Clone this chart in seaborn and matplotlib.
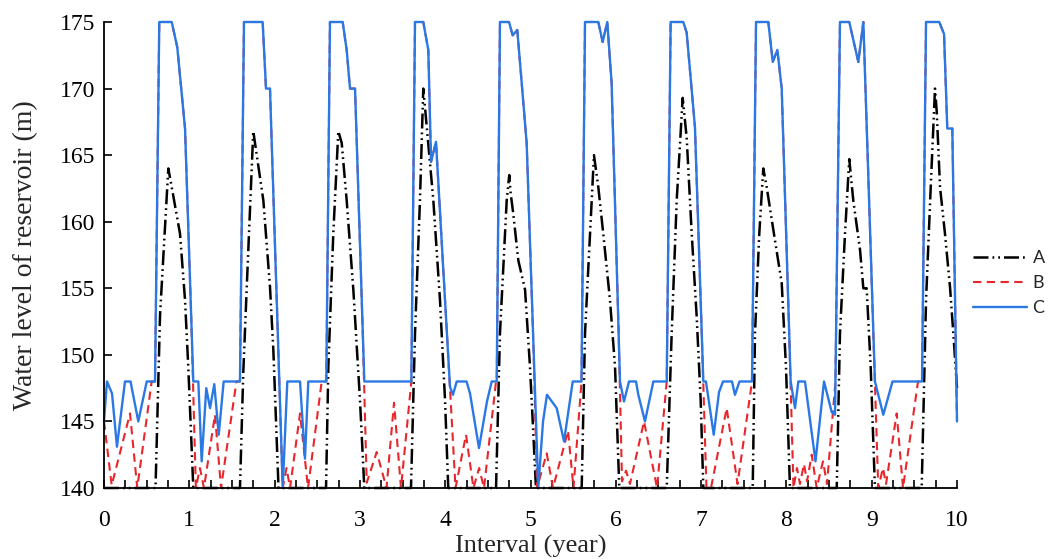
import numpy as np
import pandas as pd
import seaborn as sns
import matplotlib
matplotlib.use("Agg")
import matplotlib.pyplot as plt

# ---- data (x in years, water level in m) ----
a_x = [0.000, 0.604, 0.657, 0.754, 0.794, 0.891, 0.950, 0.988, 1.047,
       1.594, 1.633, 1.673, 1.750, 1.868, 1.946, 1.985, 2.046,
       2.603, 2.630, 2.688, 2.747, 2.787, 2.845, 2.923, 3.001, 3.052,
       3.599, 3.646, 3.704, 3.743, 3.763, 3.861, 3.939, 3.998, 4.036,
       4.596, 4.642, 4.721, 4.751, 4.768, 4.798, 4.857, 4.936, 4.994, 5.033, 5.064,
       5.600, 5.639, 5.698, 5.744, 5.795, 5.853, 5.932, 5.991, 6.041,
       6.597, 6.655, 6.714, 6.784, 6.831, 6.890, 6.948, 6.995, 7.026,
       7.605, 7.632, 7.682, 7.729, 7.769, 7.866, 7.945, 7.995, 8.042,
       8.590, 8.628, 8.687, 8.737, 8.784, 8.863, 8.902, 8.941, 8.988, 9.038,
       9.586, 9.637, 9.692, 9.742, 9.762, 9.801, 9.859, 9.918, 9.957, 10.000]
a_y = [140, 140, 153, 164, 162.6, 159.1, 154.1, 149.1, 140,
       140, 148.7, 155, 166.8, 161.6, 155.1, 150.4, 140,
       140, 149.1, 159.1, 166.8, 165.9, 161.6, 154.9, 146.6, 140,
       140, 151.6, 161.6, 170, 168.6, 161.6, 154.1, 146.6, 140,
       140, 151.6, 161.6, 163.5, 162.1, 160.6, 157.1, 154.9, 149.1, 144.1, 140,
       140, 151.6, 159.1, 165, 162.6, 159.1, 154.1, 149.1, 140,
       140, 151.6, 161.6, 169.3, 166.3, 159.1, 152.9, 146.6, 140,
       140, 151.6, 159.1, 164, 162.6, 158.6, 155.4, 149.1, 140,
       140, 151.6, 159.1, 164.7, 161.6, 157.9, 155, 155, 149.1, 140,
       140, 154.1, 162.6, 170, 168.3, 162.6, 159.1, 155.1, 151.6, 147.5]

b_x = [0.000, 0.090, 0.305, 0.390, 0.559, 0.598, 0.648, 0.794, 0.859, 0.950, 1.022,
       1.077, 1.125, 1.172, 1.301, 1.372, 1.553, 1.594, 1.641, 1.860, 1.899, 1.946,
       2.095, 2.140, 2.181, 2.298, 2.392, 2.552, 2.606, 2.649, 2.798, 2.845, 2.884, 2.943,
       3.032, 3.080, 3.197, 3.312, 3.400, 3.482, 3.603, 3.646, 3.743, 3.802, 3.834, 3.892,
       4.026, 4.121, 4.244, 4.331, 4.398, 4.455, 4.596, 4.604, 4.642, 4.748, 4.791, 4.845, 4.897, 4.955,
       5.038, 5.076, 5.190, 5.264, 5.440, 5.504, 5.598, 5.639, 5.795, 5.846, 5.900, 5.951,
       6.032, 6.073, 6.120, 6.166, 6.331, 6.483, 6.597, 6.643, 6.791, 6.831, 6.928,
       7.006, 7.063, 7.116, 7.300, 7.427, 7.597, 7.644, 7.788, 7.840, 7.894, 7.945,
       8.031, 8.083, 8.124, 8.159, 8.206, 8.242, 8.297, 8.355, 8.429, 8.476, 8.575,
       8.628, 8.737, 8.843, 8.902, 9.015, 9.077, 9.132, 9.168, 9.293, 9.367, 9.543,
       9.590, 9.637, 9.792, 9.848, 9.886, 9.945, 10.000]
b_y = [145, 140.2, 145.6, 140, 148, 148, 175, 175, 173.1, 167, 153,
       140, 141.5, 140, 145.5, 140, 148, 148, 175, 175, 170, 170,
       140, 141.5, 140, 145.6, 140, 148, 148, 175, 175, 172.9, 170, 170,
       152, 140.4, 142.7, 140, 146.4, 140, 148, 175, 175, 172.9, 164.5, 166,
       151, 140, 144, 140, 141.5, 140, 148, 148, 175, 175, 174, 174.4, 170.4, 165.9,
       150, 140, 142.6, 140, 144.3, 140, 148, 175, 175, 173.5, 175, 170.4,
       152, 140.5, 141.3, 140.3, 145, 140, 148, 175, 175, 174.2, 167.1,
       152, 140, 140, 146, 140.3, 148, 175, 175, 172, 172.9, 170,
       152, 140, 141.5, 140.3, 141.8, 140.5, 142.5, 140, 142, 140.3, 148,
       175, 175, 172, 175, 152.5, 140, 141.5, 140.3, 145.6, 140, 148,
       148, 175, 175, 174.1, 167, 167, 145]

c_x = [0.000, 0.035, 0.094, 0.152, 0.246, 0.311, 0.402, 0.501, 0.598, 0.648, 0.794, 0.859, 0.950,
       1.047, 1.106, 1.145, 1.199, 1.243, 1.293, 1.345, 1.403, 1.594, 1.641, 1.860, 1.899, 1.946,
       2.095, 2.149, 2.298, 2.356, 2.395, 2.606, 2.649, 2.798, 2.845, 2.884, 2.943,
       3.052, 3.603, 3.646, 3.743, 3.802, 3.834, 3.892,
       4.056, 4.091, 4.135, 4.250, 4.291, 4.396, 4.490, 4.545, 4.604, 4.642, 4.748, 4.791, 4.845, 4.897, 4.955,
       5.091, 5.147, 5.193, 5.307, 5.393, 5.495, 5.598, 5.639, 5.795, 5.846, 5.900, 5.951,
       6.049, 6.096, 6.155, 6.237, 6.264, 6.342, 6.440, 6.597, 6.643, 6.791, 6.831, 6.928,
       7.026, 7.057, 7.148, 7.210, 7.257, 7.362, 7.397, 7.450, 7.597, 7.644, 7.788, 7.840, 7.894, 7.945,
       8.050, 8.101, 8.140, 8.218, 8.341, 8.441, 8.531, 8.570, 8.628, 8.737, 8.843, 8.902,
       9.038, 9.136, 9.244, 9.590, 9.637, 9.792, 9.848, 9.886, 9.945, 10.000]
c_y = [145, 148, 147.1, 143.1, 148, 148, 145, 148, 148, 175, 175, 173.1, 167,
       148, 148, 142, 147.5, 146, 147.8, 144, 148, 148, 175, 175, 170, 170,
       140, 148, 148, 142.2, 148, 148, 175, 175, 172.9, 170, 170,
       148, 148, 175, 175, 172.9, 164.5, 166,
       147.6, 147, 148, 148, 147.1, 143, 146.5, 148, 148, 175, 175, 174, 174.4, 170.4, 165.9,
       140, 145, 147, 146, 143.5, 148, 148, 175, 175, 173.5, 175, 170.4,
       148, 146.5, 148, 148, 147, 145, 148, 148, 175, 175, 174.2, 167.1,
       148, 148, 144, 147.2, 148, 148, 147, 148, 148, 175, 175, 172, 172.9, 170,
       148, 146, 148, 148, 142, 148, 145.7, 145.5, 175, 175, 172, 175,
       148, 145.5, 148, 148, 175, 175, 174.1, 167, 167, 145]

series_names = ["A", "B", "C"]
x_ticks = list(range(0, 11))
y_ticks = [140, 145, 150, 155, 160, 165, 170, 175]

sns.set_style("ticks")
plt.rcParams["font.family"] = ["Liberation Serif", "DejaVu Serif"]

fig = plt.figure(figsize=(10.5, 5.59), dpi=100)
ax = fig.add_axes([104 / 1050, 1 - 488 / 559, (957 - 104) / 1050, (488 - 22) / 559])

styles = {
    "A": dict(color="black", lw=1.8, linestyle=(0, (6, 1.6, 0.7, 1.6, 0.7, 1.6))),
    "B": dict(color="#E8262B", lw=1.5, linestyle=(0, (4, 2.6))),
    "C": dict(color="#2A78E4", lw=1.7, linestyle="-"),
}
data = {"A": (a_x, a_y), "B": (b_x, b_y), "C": (c_x, c_y)}

for name in series_names:
    xs, ys = data[name]
    df = pd.DataFrame({"t": xs, "v": ys})
    sns.lineplot(data=df, x="t", y="v", ax=ax, estimator=None, sort=False,
                 label=name, clip_on=False, **styles[name])

ax.set_xlim(0, 10)
ax.set_ylim(140, 175)
ax.set_xticks(x_ticks)
ax.set_xticks(np.arange(0, 10.01, 0.25), minor=True)
ax.set_yticks(y_ticks)
ax.tick_params(axis="both", which="both", direction="in", length=6, width=1.2,
               labelsize=17, colors="black")
ax.tick_params(axis="x", pad=16)
ax.tick_params(axis="y", pad=6)
for s in ["top", "right"]:
    ax.spines[s].set_visible(False)
for s in ["left", "bottom"]:
    ax.spines[s].set_linewidth(1.3)
    ax.spines[s].set_color("black")

ax.set_xlabel("Interval (year)", fontsize=19, labelpad=3)
ax.set_ylabel("Water level of reservoir (m)", fontsize=20, labelpad=16)

leg = ax.legend(loc="center left", bbox_to_anchor=(973 / 1050, 1 - 283 / 559),
                bbox_transform=fig.transFigure, frameon=False, borderpad=0,
                borderaxespad=0, handlelength=3.0, handletextpad=0.3,
                labelspacing=0.5, prop={"family": "Lato", "size": 13})

fig.savefig("out.png", dpi=100)
